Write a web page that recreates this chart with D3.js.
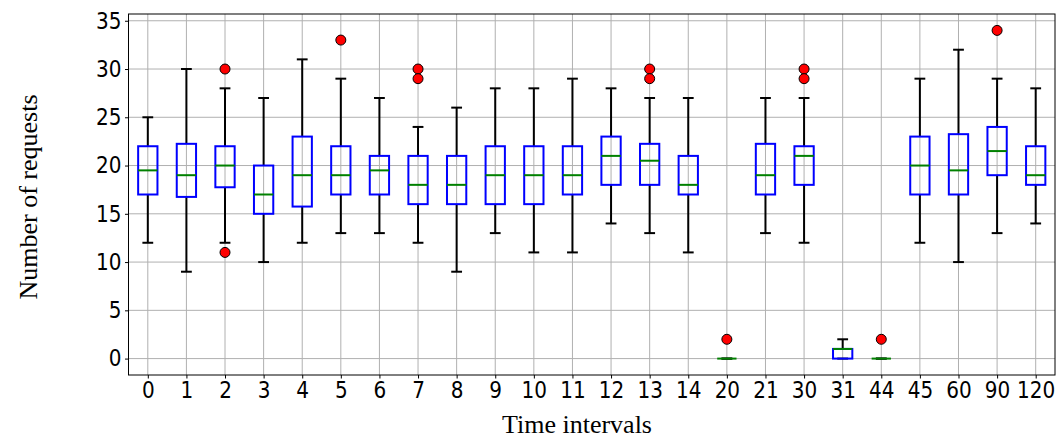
<!DOCTYPE html>
<html>
<head>
<meta charset="utf-8">
<script src="https://cdn.jsdelivr.net/npm/d3@7"></script>
<style>
  html, body { margin: 0; padding: 0; background: #fff; }
  svg { display: block; }
</style>
</head>
<body>
<svg id="chart" width="1057" height="439"></svg>
<script>
// Request counts per time interval: five-number summaries plus outliers
const categories = ["0","1","2","3","4","5","6","7","8","9","10","11","12","13","14","20","21","30","31","44","45","60","90","120"];
const whiskerLow  = [12, 9, 12, 10, 12, 13, 13, 12, 9, 13, 11, 11, 14, 13, 11, 0, 13, 12, 0, 0, 12, 10, 13, 14];
const q1          = [17, 16.75, 17.75, 15, 15.75, 17, 17, 16, 16, 16, 16, 17, 18, 18, 17, 0, 17, 18, 0, 0, 17, 17, 19, 18];
const medians     = [19.5, 19, 20, 17, 19, 19, 19.5, 18, 18, 19, 19, 19, 21, 20.5, 18, 0, 19, 21, 1, 0, 20, 19.5, 21.5, 19];
const q3          = [22, 22.25, 22, 20, 23, 22, 21, 21, 21, 22, 22, 22, 23, 22.25, 21, 0, 22.25, 22, 1, 0, 23, 23.25, 24, 22];
const whiskerHigh = [25, 30, 28, 27, 31, 29, 27, 24, 26, 28, 28, 29, 28, 27, 27, 0, 27, 27, 2, 0, 29, 32, 29, 28];
const outliers    = [[], [], [30, 11], [], [], [33], [], [30, 29], [], [], [], [], [], [30, 29], [], [2], [], [30, 29], [], [2], [], [], [34], []];
const yTicks = [0, 5, 10, 15, 20, 25, 30, 35];

const svg = d3.select("#chart");
const plot = { left: 128.5, right: 1055, top: 14, bottom: 375 };

const x = d3.scalePoint()
  .domain(categories)
  .range([plot.left, plot.right])
  .padding(0.5);
const step = x.step();
const boxW = step * 0.5;
const capW = step * 0.28;

const y = d3.scaleLinear()
  .domain([-1.7, 35.7])
  .range([plot.bottom, plot.top]);

// Grid
const grid = svg.append("g").attr("stroke", "#b0b0b0").attr("stroke-width", 1);
grid.selectAll("line.v").data(categories).join("line")
  .attr("x1", d => x(d)).attr("x2", d => x(d))
  .attr("y1", plot.top).attr("y2", plot.bottom);
grid.selectAll("line.h").data(yTicks).join("line")
  .attr("x1", plot.left).attr("x2", plot.right)
  .attr("y1", d => y(d)).attr("y2", d => y(d));

// Axes
const xAxis = d3.axisBottom(x).tickSize(3.5).tickPadding(4);
const yAxis = d3.axisLeft(y).tickValues(yTicks).tickSize(3.5).tickPadding(4);

const gx = svg.append("g").attr("transform", `translate(0,${plot.bottom})`).call(xAxis);
const gy = svg.append("g").attr("transform", `translate(${plot.left},0)`).call(yAxis);
[gx, gy].forEach(g => {
  g.select(".domain").remove();
  g.selectAll(".tick line").attr("stroke", "#000").attr("stroke-width", 1);
  g.selectAll(".tick text")
    .attr("fill", "#000")
    .style("font-family", "'DejaVu Sans', sans-serif")
    .style("font-size", "23px");
});
// Tick labels are set in a tall, narrow face
gx.selectAll(".tick text")
  .attr("y", 0)
  .attr("transform", "translate(0,6.5) scale(0.87,1)");
gy.selectAll(".tick text")
  .attr("x", 0)
  .attr("transform", "translate(-7,0) scale(0.87,1)");

// Boxes
const boxes = svg.append("g");
categories.forEach((c, i) => {
  const cx = x(c);
  const g = boxes.append("g");
  // whiskers
  g.append("line")
    .attr("x1", cx).attr("x2", cx)
    .attr("y1", y(q3[i])).attr("y2", y(whiskerHigh[i]))
    .attr("stroke", "#000").attr("stroke-width", 2);
  g.append("line")
    .attr("x1", cx).attr("x2", cx)
    .attr("y1", y(q1[i])).attr("y2", y(whiskerLow[i]))
    .attr("stroke", "#000").attr("stroke-width", 2);
  // caps
  [whiskerHigh[i], whiskerLow[i]].forEach(v => {
    g.append("line")
      .attr("x1", cx - capW / 2).attr("x2", cx + capW / 2)
      .attr("y1", y(v)).attr("y2", y(v))
      .attr("stroke", "#000").attr("stroke-width", 2);
  });
  // box
  g.append("rect")
    .attr("x", cx - boxW / 2).attr("width", boxW)
    .attr("y", y(q3[i])).attr("height", y(q1[i]) - y(q3[i]))
    .attr("fill", "none").attr("stroke", "#0000ff").attr("stroke-width", 2);
  // median
  g.append("line")
    .attr("x1", cx - boxW / 2).attr("x2", cx + boxW / 2)
    .attr("y1", y(medians[i])).attr("y2", y(medians[i]))
    .attr("stroke", "#008000").attr("stroke-width", 2);
  // outliers
  g.selectAll("circle").data(outliers[i]).join("circle")
    .attr("cx", cx).attr("cy", d => y(d)).attr("r", 5)
    .attr("fill", "#ff0000").attr("stroke", "#000").attr("stroke-width", 1);
});

// Frame
svg.append("rect")
  .attr("x", plot.left).attr("y", plot.top)
  .attr("width", plot.right - plot.left).attr("height", plot.bottom - plot.top)
  .attr("fill", "none").attr("stroke", "#000").attr("stroke-width", 1);

// Axis titles
svg.append("text")
  .attr("x", 577).attr("y", 433)
  .attr("text-anchor", "middle")
  .style("font-family", "'Liberation Serif', 'Times New Roman', serif")
  .style("font-size", "26px")
  .text("Time intervals");
svg.append("text")
  .attr("transform", "translate(28,197) rotate(-90)")
  .attr("text-anchor", "middle")
  .attr("dy", "0.35em")
  .style("font-family", "'Liberation Serif', 'Times New Roman', serif")
  .style("font-size", "26px")
  .text("Number of requests");
</script>
</body>
</html>
